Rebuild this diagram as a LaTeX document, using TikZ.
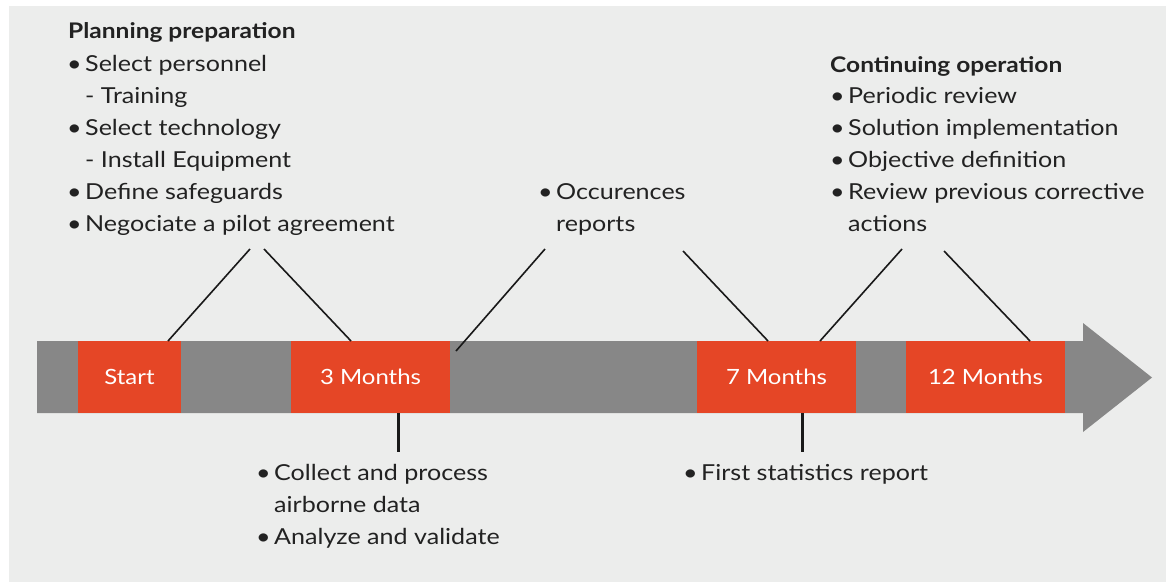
\documentclass[tikz,border=0pt]{standalone}
\usepackage{fontspec}
\setmainfont{Lato}[FakeStretch=1.14]
\definecolor{bgc}{HTML}{ECEDEC}
\definecolor{barc}{HTML}{878787}
\definecolor{redc}{HTML}{E54626}
\definecolor{txtc}{HTML}{222222}
\newcommand{\bl}{\makebox[18pt][l]{\textbullet}}
\tikzset{
  milestone/.style={fill=redc, text=white, minimum height=72pt, inner sep=0pt,
    font=\fontsize{21}{25}\selectfont},
  block/.style={anchor=base west, inner sep=0pt, text=txtc,
    font=\fontsize{22}{32}\selectfont},
  heading/.style={anchor=base west, inner sep=0pt, text=txtc,
    font=\fontsize{21.5}{32}\selectfont\bfseries},
  thin/.style={draw=black!90, line width=1.6pt},
  thick/.style={draw=black!90, line width=3pt},
}
\begin{document}
\begin{tikzpicture}[x=1pt,y=-1pt]
\useasboundingbox (0,0) rectangle (1166,582);
\fill[white] (0,0) rectangle (1166,582);
\fill[bgc] (9,6) rectangle (1166,582);
% timeline arrow
\fill[barc] (37,341) -- (1083,341) -- (1083,323) -- (1152,377.5) -- (1083,432) -- (1083,413) -- (37,413) -- cycle;
% milestones
\node[milestone, minimum width=103pt] (start) at (129.5,377) {Start};
\node[milestone, minimum width=159pt] (m3) at (370.5,377) {3 Months};
\node[milestone, minimum width=159pt] (m7) at (776.5,377) {7 Months};
\node[milestone, minimum width=159pt] (m12) at (985.5,377) {12 Months};
% text blocks
\node[heading] (plan) at (68,38) {Planning preparation};
\node[block] (planlist) at (67,71) {\renewcommand{\arraystretch}{1}\begin{tabular}[t]{@{}l@{}l@{}}
\bl & Select personnel\\
 & - Training\\
\bl & Select technology\\
 & - Install Equipment\\
\bl & Define safeguards\\
\bl & Negociate a pilot agreement
\end{tabular}};
\node[block] (occ) at (538,199) {\begin{tabular}[t]{@{}l@{}l@{}}
\bl & Occurences\\
 & reports
\end{tabular}};
\node[heading] (cont) at (830,72) {Continuing operation};
\node[block] (contlist) at (830,103) {\begin{tabular}[t]{@{}l@{}l@{}}
\bl & Periodic review\\
\bl & Solution implementation\\
\bl & Objective definition\\
\bl & Review previous corrective\\
 & actions
\end{tabular}};
\node[block] (collect) at (256,480) {\begin{tabular}[t]{@{}l@{}l@{}}
\bl & Collect and process\\
 & airborne data\\
\bl & Analyze and validate
\end{tabular}};
\node[block] (stats) at (683,480) {\begin{tabular}[t]{@{}l@{}l@{}}
\bl & First statistics report
\end{tabular}};
% connector end points
\coordinate (pA) at (250,249);
\coordinate (pB) at (264,249);
\coordinate (oA) at (545,249);
\coordinate (oB) at (456,351);
\coordinate (cA) at (683,251);
\coordinate (cB) at (902,249);
\coordinate (cC) at (944,251);
\coordinate (s1) at (168,341);
\coordinate (s3) at (351,341);
\coordinate (s7a) at (768,341);
\coordinate (s7b) at (820,341);
\coordinate (s12) at (1030,341);
\coordinate (d3) at (398,452);
\coordinate (d7) at (802,452);
% connectors
\draw[thin] (s1) -- (pA);
\draw[thin] (s3) -- (pB);
\draw[thin] (oB) -- (oA);
\draw[thin] (s7a) -- (cA);
\draw[thin] (s7b) -- (cB);
\draw[thin] (s12) -- (cC);
\draw[thick] (m3.south -| d3) -- (d3);
\draw[thick] (m7.south -| d7) -- (d7);
\end{tikzpicture}
\end{document}
